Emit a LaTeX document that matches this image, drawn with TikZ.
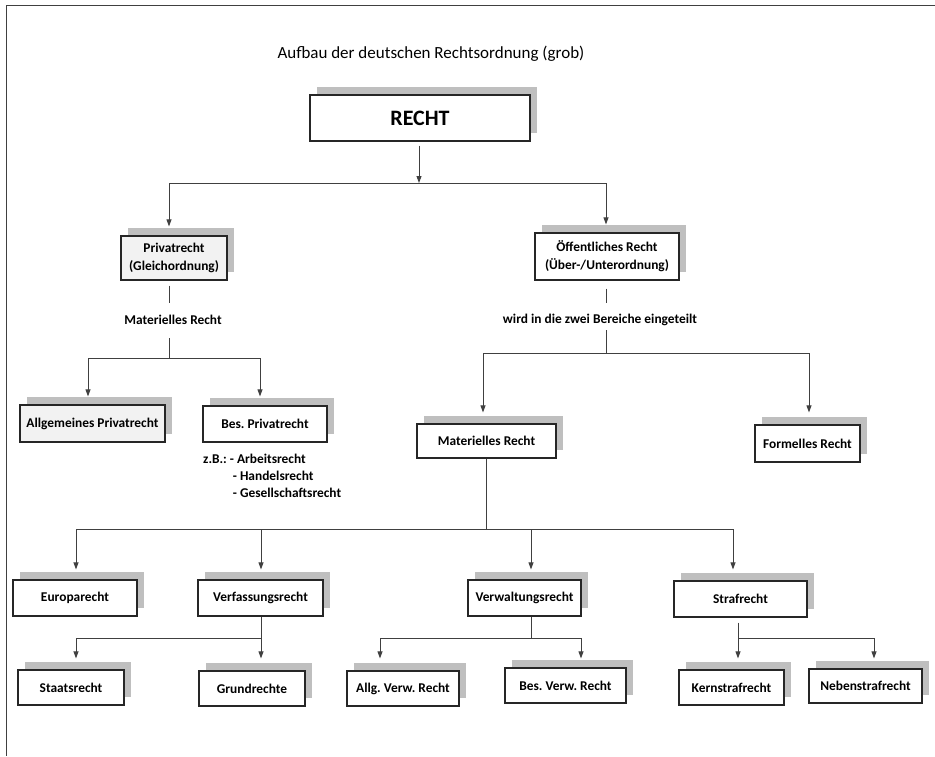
\documentclass[tikz,border=0pt]{standalone}
\usepackage{fontspec}
\setmainfont{Carlito}
\usetikzlibrary{shadows,arrows.meta}
\definecolor{shadowgray}{HTML}{BFBFBF}
\definecolor{lightbox}{HTML}{F2F2F2}
\definecolor{linegray}{HTML}{404040}
\definecolor{framegray}{HTML}{404040}
\frenchspacing
\begin{document}
\begin{tikzpicture}[x=1pt,y=-1pt,
  box/.style={draw=black!85, line width=1.2pt, fill=white, inner sep=0pt, align=center,
    font=\bfseries\fontsize{13.4}{18}\selectfont,
    drop shadow={shadow xshift=7pt, shadow yshift=8pt, fill=shadowgray, opacity=1}},
  graybox/.style={box, fill=lightbox},
  lbl/.style={inner sep=0pt, minimum height=12pt, font=\bfseries\fontsize{13.4}{17}\selectfont},
  ln/.style={draw=linegray, line width=0.9pt},
  arr/.style={ln, -{Triangle[length=7pt,width=5pt]}},
]
\useasboundingbox (0,0) rectangle (935,756);
\fill[white] (0,0) rectangle (935,756);
% frame
\draw[line width=1.5pt, draw=framegray] (935,5.5) -- (6.5,5.5) -- (6.5,756);

% title
\node[font=\fontsize{17}{20}\selectfont, inner sep=0pt] (title) at (431,54) {Aufbau der deutschen Rechtsordnung (grob)};

% boxes
\node[box, minimum width=220pt, minimum height=46pt, font=\bfseries\fontsize{22}{26}\selectfont] (recht) at (420,118) {RECHT};
\node[graybox, minimum width=106pt, minimum height=44pt] (priv) at (174,258) {Privatrecht\\(Gleichordnung)};
\node[box, minimum width=144pt, minimum height=47pt] (oeff) at (607,256.5) {Öffentliches Recht\\(Über-/Unterordnung)};
\node[graybox, minimum width=145pt, minimum height=37pt] (allg) at (92.5,423.5) {Allgemeines Privatrecht};
\node[box, minimum width=124pt, minimum height=36pt] (bes) at (265,424) {Bes. Privatrecht};
\node[box, minimum width=139pt, minimum height=34pt] (matR) at (486.5,441) {Materielles Recht};
\node[box, minimum width=105pt, minimum height=37pt] (form) at (807.5,443.5) {Formelles Recht};
\node[box, minimum width=124pt, minimum height=36pt] (euro) at (75,598) {Europarecht};
\node[box, minimum width=125pt, minimum height=36pt] (verf) at (260.5,598) {Verfassungsrecht};
\node[box, minimum width=113pt, minimum height=36pt] (verw) at (524.5,598) {Verwaltungsrecht};
\node[box, minimum width=133pt, minimum height=36pt] (straf) at (740.5,599) {Strafrecht};
\node[box, minimum width=106pt, minimum height=35pt] (staat) at (71,687.5) {Staatsrecht};
\node[box, minimum width=106pt, minimum height=35pt] (grund) at (252,688.5) {Grundrechte};
\node[box, minimum width=112pt, minimum height=35pt] (allgv) at (403,688.5) {Allg. Verw. Recht};
\node[box, minimum width=121pt, minimum height=35pt] (besv) at (565.5,685.5) {Bes. Verw. Recht};
\node[box, minimum width=105pt, minimum height=35pt] (kern) at (731.5,687.5) {Kernstrafrecht};
\node[box, minimum width=113pt, minimum height=34pt] (neben) at (865.5,686) {Nebenstrafrecht};

% free labels
\node[lbl] (matL) at (173,320) {Materielles Recht};
\node[lbl] (wird) at (600,320) {wird in die zwei Bereiche eingeteilt};
\node[inner sep=0pt, anchor=west, font=\bfseries\fontsize{13.4}{17}\selectfont] (zb) at (203,477)
  {\begin{tabular}{@{}l@{\hspace{3pt}}l@{}}z.B.: & - Arbeitsrecht\\ & \hspace{3pt}- Handelsrecht\\ & \hspace{3pt}- Gesellschaftsrecht\end{tabular}};

% level 1
\coordinate (j1) at (419,183);
\coordinate (j1L) at (169,183);
\coordinate (j1R) at (606,183);
\draw[arr, shorten <=4pt] (recht.south -| j1) -- (j1);
\draw[ln] (j1L) -- (j1R);
\draw[arr, shorten >=9pt] (j1L) -- (j1L |- priv.north);
\draw[arr, shorten >=8pt] (j1R) -- (j1R |- oeff.north);

% private branch
\coordinate (j2) at (169,358);
\coordinate (j2L) at (88,358);
\coordinate (j2R) at (260,358);
\draw[ln, shorten <=5pt, shorten >=11pt] (priv.south -| j2) -- (matL.north -| j2);
\draw[ln, shorten <=12pt] (matL.south -| j2) -- (j2);
\draw[ln] (j2L) -- (j2R);
\draw[arr, shorten >=8pt] (j2L) -- (j2L |- allg.north);
\draw[arr, shorten >=9pt] (j2R) -- (j2R |- bes.north);

% public branch
\coordinate (j3) at (606,353);
\coordinate (j3L) at (483,353);
\coordinate (j3R) at (809,353);
\draw[ln, shorten <=8pt, shorten >=11pt] (oeff.south -| j3) -- (wird.north -| j3);
\draw[ln, shorten <=4pt] (wird.south -| j3) -- (j3);
\draw[ln] (j3L) -- (j3R);
\draw[arr, shorten >=11pt] (j3L) -- (j3L |- matR.north);
\draw[arr, shorten >=12pt] (j3R) -- (j3R |- form.north);

% materielles recht
\coordinate (j4) at (486,529);
\coordinate (j4L) at (76,529);
\coordinate (j4b) at (261,529);
\coordinate (j4c) at (531,529);
\coordinate (j4R) at (733,529);
\draw[ln] (matR.south -| j4) -- (j4);
\draw[ln] (j4L) -- (j4R);
\draw[arr, shorten >=10pt] (j4L) -- (j4L |- euro.north);
\draw[arr, shorten >=10pt] (j4b) -- (j4b |- verf.north);
\draw[arr, shorten >=10pt] (j4c) -- (j4c |- verw.north);
\draw[arr, shorten >=11pt] (j4R) -- (j4R |- straf.north);

% verfassungsrecht
\coordinate (j5) at (261,638);
\coordinate (j5L) at (76,638);
\draw[ln] (verf.south -| j5) -- (j5);
\draw[ln] (j5L) -- (j5);
\draw[arr, shorten >=11pt] (j5L) -- (j5L |- staat.north);
\draw[arr, shorten >=12pt] (j5) -- (j5 |- grund.north);

% verwaltungsrecht
\coordinate (j6) at (531,638);
\coordinate (j6L) at (380,638);
\coordinate (j6R) at (581,638);
\draw[ln] (verw.south -| j6) -- (j6);
\draw[ln] (j6L) -- (j6R);
\draw[arr, shorten >=12pt] (j6L) -- (j6L |- allgv.north);
\draw[arr, shorten >=9pt] (j6R) -- (j6R |- besv.north);

% strafrecht
\coordinate (j7) at (738,638);
\coordinate (j7R) at (874,638);
\draw[ln, shorten <=5pt] (straf.south -| j7) -- (j7);
\draw[ln] (j7) -- (j7R);
\draw[arr, shorten >=11pt] (j7) -- (j7 |- kern.north);
\draw[arr, shorten >=10pt] (j7R) -- (j7R |- neben.north);
\end{tikzpicture}
\end{document}
